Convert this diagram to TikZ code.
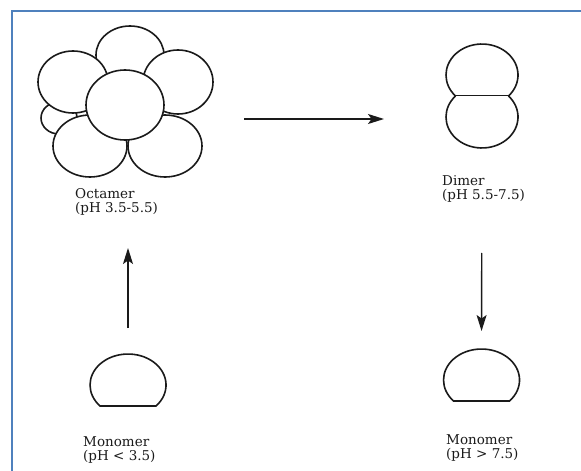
\documentclass[tikz,border=0pt]{standalone}
\usepackage{fontspec}
\setmainfont{DejaVu Serif}
\usetikzlibrary{arrows.meta}
\definecolor{frameBlue}{HTML}{4F81BD}
\definecolor{inkBlack}{HTML}{1A1A1A}

\tikzset{
  blob/.style={draw=inkBlack, line width=1.6pt, fill=white},
  spot/.style={inner sep=0pt, outer sep=0pt},
  lbl/.style={align=left, anchor=north west, inner sep=0pt, text=inkBlack,
    font=\fontsize{13.5}{14.5}\selectfont},
  arr/.style={-{Stealth[length=16pt, width=10pt, inset=3.5pt]}, line width=1.4pt, draw=inkBlack},
  % dome with a flat base, origin at the middle of the base
  monomer/.pic={
    \draw[blob] (28,0) arc[start angle=42.6, end angle=-222.6, x radius=38, y radius=31] -- cycle;
  },
  % two lobes sharing one straight seam, origin at the middle of the seam
  dimer/.pic={
    \draw[blob] (26.5,0) arc[start angle=42.6, end angle=-222.6, x radius=36, y radius=31] -- cycle;
    \draw[blob] (26.5,0) arc[start angle=-42.6, end angle=222.6, x radius=36, y radius=31];
  }
}

\begin{document}
\begin{tikzpicture}[x=1pt, y=-1pt]
  \useasboundingbox (0,0) rectangle (581,471);

  % frame
  \draw[frameBlue, line width=2.5pt] (581,11) -- (12,11) -- (12,471);

  % Octamer: back lobes first, the front one last
  \draw[blob] (130,55) ellipse [x radius=34, y radius=29];
  \draw[blob] (59,118) ellipse [x radius=18, y radius=16];
  \draw[blob] (73,82) ellipse [x radius=35, y radius=31];
  \draw[blob] (178,82) ellipse [x radius=35, y radius=32];
  \draw[blob] (90,146) ellipse [x radius=37, y radius=31];
  \draw[blob] (165,146) ellipse [x radius=37, y radius=31];
  \draw[blob] (125,105) ellipse [x radius=39, y radius=35];
  \node[spot, minimum width=176pt, minimum height=186pt] (oct) at (125,119) {};
  \node[lbl] (octlbl) at (75,188) {Octamer\\(pH 3.5-5.5)};

  % Dimer
  \pic at (482,96) {dimer};
  \node[spot, minimum width=72pt, minimum height=104pt] (dim) at (482,96) {};
  \node[lbl] (dimlbl) at (442,175) {Dimer\\(pH 5.5-7.5)};

  % Monomers
  \pic at (128,406) {monomer};
  \node[spot, minimum width=76pt, minimum height=52pt] (monoL) at (128,380) {};
  \node[lbl] (monoLlbl) at (83,436) {Monomer\\(pH < 3.5)};

  \pic at (481.5,401) {monomer};
  \node[spot, minimum width=76pt, minimum height=52pt] (monoR) at (481.5,375) {};
  \node[lbl] (monoRlbl) at (446,434) {Monomer\\(pH > 7.5)};

  % Conversions
  \draw[arr, shorten <=31pt, shorten >=62pt] (oct.east) -- (oct.east -| dim.west);
  \draw[arr, shorten <=105pt, shorten >=18pt] (dim.south) -- (monoR.north);
  \draw[arr, shorten <=26pt, shorten >=36pt] (monoL.north) -- (monoL.north |- oct.south);
\end{tikzpicture}
\end{document}
